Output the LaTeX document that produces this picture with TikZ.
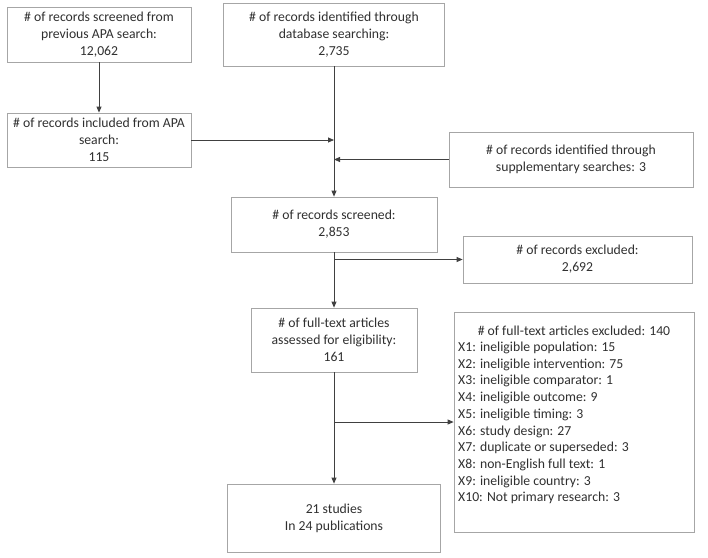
\documentclass[tikz,border=0pt]{standalone}
\usepackage{fontspec}
\setmainfont{Carlito}
\usetikzlibrary{arrows.meta}
\definecolor{boxline}{HTML}{A6A6A6}
\definecolor{conn}{HTML}{404040}
\definecolor{txt}{HTML}{303030}
\tikzset{
  box/.style={draw=boxline, line width=0.8pt, rectangle, inner sep=0pt, align=center, text=txt,
    font=\fontsize{13.7}{17}\selectfont},
  txtnode/.style={inner sep=0pt, text=txt, font=\fontsize{13.7}{16.7}\selectfont},
  conn/.style={draw=conn, line width=0.8pt},
  arr/.style={conn, -{Triangle[length=6pt,width=5pt]}}
}
\begin{document}
\begin{tikzpicture}[x=1pt,y=-1pt]
\useasboundingbox[fill=white] (0,0) rectangle (708,557);
\node[box, minimum width=184pt, minimum height=55pt] (b1) at (99,34.5)
  {\# of records screened from\\previous APA search:\\12,062};
\node[box, minimum width=221pt, minimum height=63pt] (b2) at (334,34.5)
  {\# of records identified through\\database searching:\\2,735};
\node[box, minimum width=184pt, minimum height=54pt] (b3) at (99,140)
  {\# of records included from APA\\search:\\115};
\node[box, minimum width=244pt, minimum height=55pt] (sup) at (571,159.5)
  {\# of records identified through\\supplementary searches: 3};
\node[box, minimum width=206pt, minimum height=55pt] (b4) at (334,224.5)
  {\# of records screened:\\2,853};
\node[box, minimum width=229pt, minimum height=47pt] (exc) at (577.5,259.5)
  {\# of records excluded:\\2,692};
\node[box, minimum width=166pt, minimum height=64pt] (b5) at (334,340)
  {\# of full-text articles\\assessed for eligibility:\\161};
\node[box, minimum width=240pt, minimum height=220pt] (ex2) at (574,422) {};
\node[txtnode] (ex2h) at (574,331) {\# of full-text articles excluded: 140};
\node[txtnode, anchor=west, align=left] (ex2l) at (458,423)
  {X1: ineligible population: 15\\
   X2: ineligible intervention: 75\\
   X3: ineligible comparator: 1\\
   X4: ineligible outcome: 9\\
   X5: ineligible timing: 3\\
   X6: study design: 27\\
   X7: duplicate or superseded: 3\\
   X8: non-English full text: 1\\
   X9: ineligible country: 3\\
   X10: Not primary research: 3};
\node[box, minimum width=213pt, minimum height=68pt] (b6) at (334,518)
  {21 studies\\In 24 publications};

\coordinate (j1) at (b2.south |- b3.east);
\coordinate (j2) at (b2.south |- sup.west);
\coordinate (j3) at (b4.south |- exc.west);
\coordinate (j4) at (b5.south |- ex2.west);

\draw[arr] (b1.south) -- (b3.north);
\draw[arr] (b2.south) -- (b4.north);
\draw[arr] (b3.east) -- (j1);
\draw[arr] (sup.west) -- (j2);
\draw[arr] (b4.south) -- (b5.north);
\draw[arr] (j3) -- (exc.west);
\draw[arr] (b5.south) -- (b6.north);
\draw[arr] (j4) -- (ex2.west);
\end{tikzpicture}
\end{document}
